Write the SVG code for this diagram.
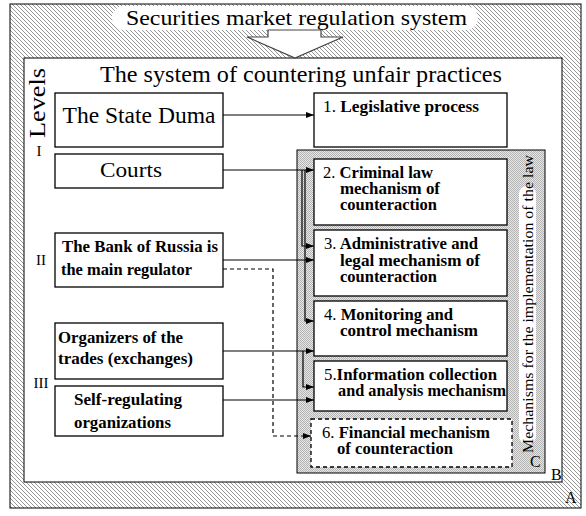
<svg xmlns="http://www.w3.org/2000/svg" width="586" height="516" viewBox="0 0 586 516">
<defs>
<pattern id="hatch" patternUnits="userSpaceOnUse" width="4" height="4">
<rect width="4" height="4" fill="#ffffff"/>
<path d="M-1,-1 L5,5 M-1,3 L1,5 M3,-1 L5,1" stroke="#8a8a8a" stroke-width="0.9"/>
</pattern>
<pattern id="dots" patternUnits="userSpaceOnUse" width="2" height="2">
<rect width="2" height="2" fill="#e6e6e6"/>
<rect x="0" y="0" width="1" height="1" fill="#b4b4b4"/>
<rect x="1" y="1" width="1" height="1" fill="#b4b4b4"/>
</pattern>
<marker id="arr" markerUnits="userSpaceOnUse" markerWidth="9" markerHeight="7" refX="8" refY="3.5" orient="auto">
<path d="M0,0.5 L8,3.5 L0,6.5 z" fill="#000"/>
</marker>
</defs>
<style>
.frame{stroke:#000;stroke-width:1}
.box{fill:#fff;stroke:#000;stroke-width:1.3}
.t{font-family:"Liberation Serif","Times New Roman",serif;fill:#000}
.b{font-weight:bold}
.n{font-weight:normal}
.con{fill:none;stroke:#000;stroke-width:1.2}
.dash{stroke-dasharray:4,3}
</style>

<g id="frameA">
<rect class="frame" x="10" y="4" width="571" height="504" fill="url(#hatch)"/>
<text class="t" x="565" y="503" font-size="16">A</text>
</g>

<g id="title">
<rect x="112" y="6" width="366" height="24" rx="12" fill="#fff"/>
<text class="t" x="296.5" y="25" font-size="22" text-anchor="middle" textLength="341" lengthAdjust="spacingAndGlyphs">Securities market regulation system</text>
</g>

<g id="frameB">
<rect class="frame" x="24" y="58" width="538" height="424" fill="#fff"/>
<text class="t" x="551" y="480" font-size="16">B</text>
<text class="t" x="301" y="82" font-size="22.5" text-anchor="middle" textLength="402" lengthAdjust="spacingAndGlyphs">The system of countering unfair practices</text>
<text class="t" transform="translate(45,138) rotate(-90)" font-size="23" textLength="70" lengthAdjust="spacingAndGlyphs">Levels</text>
<text class="t" x="39" y="156" font-size="15" text-anchor="middle">I</text>
<text class="t" x="41" y="265" font-size="15" text-anchor="middle">II</text>
<text class="t" x="41" y="388" font-size="15" text-anchor="middle">III</text>
</g>

<g id="blockArrow">
<polygon points="268,30 321,30 321,37 343,37 295,58 247,37 268,37" fill="#fff" stroke="#444" stroke-width="1.2"/>
</g>

<g id="frameC">
<rect class="frame" x="297" y="150" width="248" height="323" fill="url(#dots)"/>
<rect x="519" y="186" width="17" height="258" rx="8" fill="#fff"/>
<text class="t" transform="translate(533,453) rotate(-90)" font-size="14" textLength="298" lengthAdjust="spacingAndGlyphs">Mechanisms for the implementation of the law</text>
<text class="t" x="530" y="467" font-size="16">C</text>
</g>

<g id="stateDuma">
<rect class="box" x="55" y="93" width="168" height="54"/>
<text class="t" x="139" y="123" font-size="23" text-anchor="middle" textLength="153" lengthAdjust="spacingAndGlyphs">The State Duma</text>
</g>

<g id="courts">
<rect class="box" x="55" y="154" width="168" height="34"/>
<text class="t" x="131" y="177" font-size="22" text-anchor="middle" textLength="62" lengthAdjust="spacingAndGlyphs">Courts</text>
</g>

<g id="bankOfRussia">
<rect class="box" x="55" y="233" width="168" height="54"/>
<text class="t b" x="62" y="252" font-size="17" textLength="156" lengthAdjust="spacingAndGlyphs">The Bank of Russia is</text>
<text class="t b" x="61" y="275" font-size="17" textLength="131" lengthAdjust="spacingAndGlyphs">the main regulator</text>
</g>

<g id="organizers">
<rect class="box" x="55" y="323" width="168" height="56"/>
<text class="t b" x="58" y="343" font-size="17" textLength="125" lengthAdjust="spacingAndGlyphs">Organizers of the</text>
<text class="t b" x="58" y="364" font-size="17" textLength="135" lengthAdjust="spacingAndGlyphs">trades (exchanges)</text>
</g>

<g id="selfRegulating">
<rect class="box" x="55" y="386" width="168" height="50"/>
<text class="t b" x="74" y="405" font-size="17" textLength="108" lengthAdjust="spacingAndGlyphs">Self-regulating</text>
<text class="t b" x="74" y="428" font-size="17" textLength="97" lengthAdjust="spacingAndGlyphs">organizations</text>
</g>

<g id="m1">
<rect class="box" x="314" y="93" width="193" height="54"/>
<text class="t b" x="323" y="112" font-size="17" textLength="156" lengthAdjust="spacingAndGlyphs"><tspan class="n">1.</tspan> Legislative process</text>
</g>

<g id="m2">
<rect class="box" x="314" y="159" width="193" height="66"/>
<text class="t b" x="323" y="178" font-size="16" textLength="110" lengthAdjust="spacingAndGlyphs"><tspan class="n">2.</tspan> Criminal law</text>
<text class="t b" x="340" y="194" font-size="16" textLength="100" lengthAdjust="spacingAndGlyphs">mechanism of</text>
<text class="t b" x="340" y="210" font-size="16" textLength="97" lengthAdjust="spacingAndGlyphs">counteraction</text>
</g>

<g id="m3">
<rect class="box" x="314" y="230" width="193" height="66"/>
<text class="t b" x="324" y="249" font-size="16" textLength="154" lengthAdjust="spacingAndGlyphs"><tspan class="n">3.</tspan> Administrative and</text>
<text class="t b" x="340" y="266" font-size="16" textLength="140" lengthAdjust="spacingAndGlyphs">legal mechanism of</text>
<text class="t b" x="340" y="282" font-size="16" textLength="97" lengthAdjust="spacingAndGlyphs">counteraction</text>
</g>

<g id="m4">
<rect class="box" x="314" y="301" width="193" height="55"/>
<text class="t b" x="324" y="320" font-size="16" textLength="129" lengthAdjust="spacingAndGlyphs"><tspan class="n">4.</tspan> Monitoring and</text>
<text class="t b" x="340" y="336" font-size="16" textLength="138" lengthAdjust="spacingAndGlyphs">control mechanism</text>
</g>

<g id="m5">
<rect class="box" x="314" y="361" width="193" height="50"/>
<text class="t b" x="324" y="380" font-size="16" textLength="173" lengthAdjust="spacingAndGlyphs"><tspan class="n">5.</tspan>Information collection</text>
<text class="t b" x="338" y="396" font-size="16" textLength="168" lengthAdjust="spacingAndGlyphs">and analysis mechanism</text>
</g>

<g id="m6">
<rect class="box dash" x="311" y="419" width="201" height="48" stroke-width="1.1"/>
<text class="t b" x="322" y="438" font-size="16" textLength="168" lengthAdjust="spacingAndGlyphs"><tspan class="n">6.</tspan> Financial mechanism</text>
<text class="t b" x="337" y="454" font-size="16" textLength="116" lengthAdjust="spacingAndGlyphs">of counteraction</text>
</g>

<g id="connectors">
<path class="con" d="M223,115 H314" marker-end="url(#arr)"/>
<path class="con" d="M223,170 H314" marker-end="url(#arr)"/>
<path class="con" d="M302,170 V246 H314" marker-end="url(#arr)"/>
<path class="con" d="M305,170 V321 H314" marker-end="url(#arr)"/>
<path class="con" d="M223,260 H314" marker-end="url(#arr)"/>
<path class="con" d="M223,351 H314" marker-end="url(#arr)"/>
<path class="con" d="M303,351 V387 H314" marker-end="url(#arr)"/>
<path class="con" d="M223,400 H314" marker-end="url(#arr)"/>
<path class="con dash" d="M223,269 H273 V436 H311" marker-end="url(#arr)"/>
</g>
</svg>
